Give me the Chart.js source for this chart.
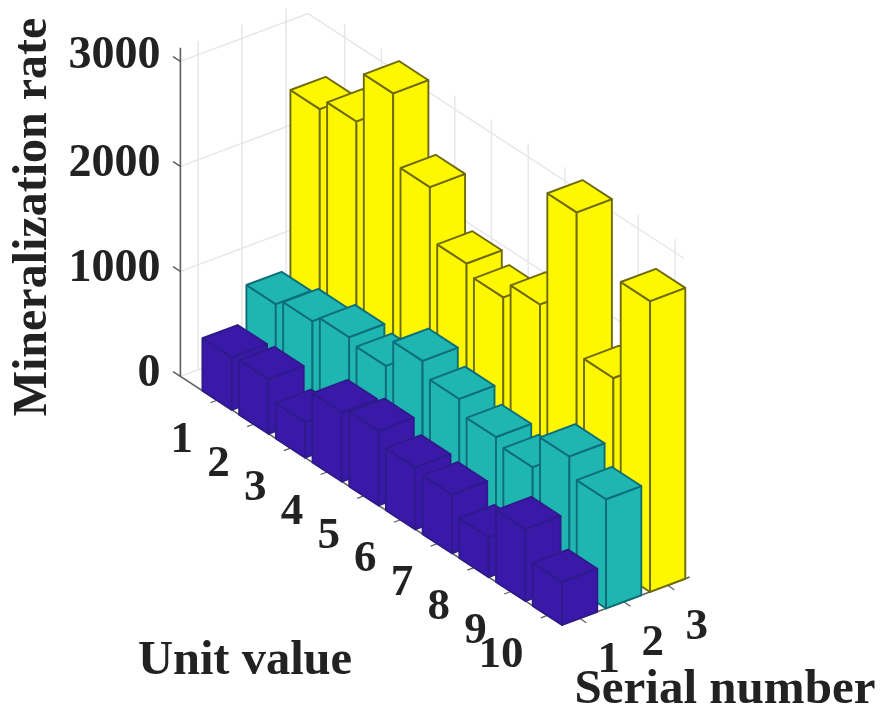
<!DOCTYPE html>
<html>
<head>
<meta charset="utf-8">
<style>
  html, body { margin: 0; padding: 0; background: #fff; }
  canvas { display: block; }
</style>
<script src="https://cdn.jsdelivr.net/npm/chart.js@4/dist/chart.umd.min.js"></script>
</head>
<body>
<canvas id="chart" width="882" height="715"></canvas>
<script>
const unitLabels = ["1", "2", "3", "4", "5", "6", "7", "8", "9", "10"];
const serialLabels = ["1", "2", "3"];
const rateTicks = [0, 1000, 2000, 3000];

const serial1 = [500, 520, 340, 660, 710, 590, 560, 380, 685, 410];
const serial2 = [850, 915, 990, 945, 1220, 1085, 950, 890, 1220, 1040];
const serial3 = [2550, 2660, 3155, 2490, 1990, 1895, 2055, 3160, 1810, 2770];
const seriesValues = [serial1, serial2, serial3];

const faceColors = ["#3a18a8", "#1fb5b0", "#fdf800"];
const edgeColors = ["#2f1a8c", "#0e6d78", "#6f6a08"];
const gridColor = "#e6e6ea";
const axisColor = "#5c5c5c";
const textColor = "#222222";
const textFont = '"Liberation Serif", "Times New Roman", serif';

// oblique view: the same projection MATLAB's bar3 camera gave the picture
const project = (unit, serial, rate) => ({
  x: 154 + 36.7 * unit + 44 * serial,
  y: 386.3 + 23.9 * unit - 16.5 * serial - rate * 0.105,
});

const halfBar = 0.4;
const unitRange = [0, 10.4];
const serialRange = [0.6, 3.5];
const wallUnitEnd = 10.25;
const gridTop = 3130;

const lineSet = (points, color, width) => ({
  data: points,
  showLine: true,
  fill: false,
  borderColor: color,
  borderWidth: width,
  pointRadius: 0,
  tension: 0,
  clip: false,
});

const faceSet = (corners, fillColor, edgeColor) => ({
  data: [...corners, corners[0]],
  showLine: true,
  fill: "shape",
  backgroundColor: fillColor,
  borderColor: edgeColor,
  borderWidth: 1.9,
  borderJoinStyle: "round",
  pointRadius: 0,
  tension: 0,
  clip: false,
});

const wallSets = () => {
  const sets = [];
  const [u0] = unitRange;
  const [s0, s1] = serialRange;
  rateTicks.forEach((rate) => {
    sets.push(lineSet([project(u0, s0, rate), project(u0, s1, rate), project(wallUnitEnd, s1, rate)], gridColor, 1.4));
  });
  serialLabels.forEach((_, index) => {
    const serial = index + 1;
    sets.push(lineSet([project(u0, serial, 0), project(u0, serial, gridTop)], gridColor, 1.4));
  });
  unitLabels.forEach((_, index) => {
    const unit = index + 1;
    sets.push(lineSet([project(unit, s1, 0), project(unit, s1, gridTop)], gridColor, 1.4));
  });
  return sets;
};

const axisSets = () => {
  const sets = [];
  const [u0, u1] = unitRange;
  const [s0, s1] = serialRange;
  sets.push(lineSet([project(u0, s0, 0), project(u0, s0, gridTop)], axisColor, 1.6));
  sets.push(lineSet([project(u0, s0, 0), project(u1, s0, 0), project(u1, s1, 0)], axisColor, 1.6));
  rateTicks.forEach((rate) => {
    sets.push(lineSet([project(u0, s0, rate), project(u0 - 0.2, s0, rate)], axisColor, 1.4));
  });
  unitLabels.forEach((_, index) => {
    const unit = index + 1;
    sets.push(lineSet([project(unit, s0, 0), project(unit, s0 - 0.15, 0)], axisColor, 1.2));
  });
  serialLabels.forEach((_, index) => {
    const serial = index + 1;
    sets.push(lineSet([project(u1, serial, 0), project(u1 + 0.18, serial, 0)], axisColor, 1.2));
  });
  return sets;
};

const barSets = () => {
  const sets = [];
  // back row first, and along each row towards the viewer
  for (let s = seriesValues.length - 1; s >= 0; s--) {
    seriesValues[s].forEach((value, u) => {
      const unit = u + 1;
      const serial = s + 1;
      const left = (z) => project(unit - halfBar, serial - halfBar, z);
      const front = (z) => project(unit + halfBar, serial - halfBar, z);
      const right = (z) => project(unit + halfBar, serial + halfBar, z);
      const back = (z) => project(unit - halfBar, serial + halfBar, z);
      sets.push(faceSet([left(0), front(0), front(value), left(value)], faceColors[s], edgeColors[s]));
      sets.push(faceSet([front(0), right(0), right(value), front(value)], faceColors[s], edgeColors[s]));
      sets.push(faceSet([left(value), front(value), right(value), back(value)], faceColors[s], edgeColors[s]));
    });
  }
  return sets;
};

const labelsPlugin = {
  id: "labels3d",
  afterDraw(chart) {
    const { ctx, scales } = chart;
    const put = (text, at, dx, dy, align, size) => {
      ctx.font = `bold ${size}px ${textFont}`;
      ctx.fillStyle = textColor;
      ctx.textAlign = align;
      ctx.textBaseline = "middle";
      ctx.fillText(text, scales.x.getPixelForValue(at.x) + dx, scales.y.getPixelForValue(at.y) + dy);
    };
    const [u0, u1] = unitRange;
    const [s0] = serialRange;

    rateTicks.forEach((rate) => {
      put(String(rate), project(u0, s0, rate), -20, rate === 3000 ? -5 : -2, "right", 46);
    });
    unitLabels.forEach((label, index) => {
      put(label, project(index + 1, s0, 0), -24, 40, "right", 45);
    });
    serialLabels.forEach((label, index) => {
      put(label, project(u1, index + 1, 0), 29, 42, "center", 45);
    });

    put("Unit value", { x: 245, y: 661 }, 0, 0, "center", 48.5);
    put("Serial number", { x: 725, y: 690 }, 0, 0, "center", 49);

    ctx.save();
    ctx.translate(34, 217);
    ctx.rotate(-Math.PI / 2);
    ctx.font = `bold 48px ${textFont}`;
    ctx.fillStyle = textColor;
    ctx.textAlign = "center";
    ctx.textBaseline = "middle";
    ctx.fillText("Mineralization rate", 0, 0);
    ctx.restore();
  },
};

// Chart.js paints the first dataset last, so the list goes front to back
const datasets = [...wallSets(), ...axisSets(), ...barSets()].reverse();

new Chart(document.getElementById("chart").getContext("2d"), {
  type: "scatter",
  data: { datasets },
  options: {
    responsive: false,
    animation: false,
    layout: { padding: 0 },
    plugins: { legend: { display: false }, tooltip: { enabled: false } },
    scales: {
      x: { type: "linear", min: 0, max: 882, display: false },
      y: { type: "linear", min: 0, max: 715, reverse: true, display: false },
    },
  },
  plugins: [labelsPlugin],
});
</script>
</body>
</html>
